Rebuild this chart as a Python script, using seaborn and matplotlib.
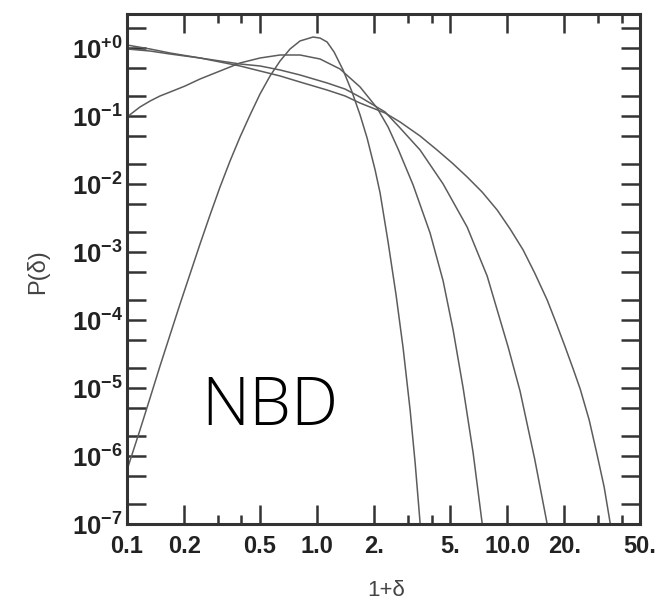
import matplotlib
matplotlib.use("Agg")
import matplotlib.pyplot as plt
import numpy as np
import pandas as pd
import seaborn as sns
from matplotlib.ticker import FixedLocator, FixedFormatter, NullFormatter

# Density distribution P(delta) against 1+delta, four widths of the NBD
x_narrow = [0.1, 0.117, 0.1322, 0.1492, 0.1684, 0.1901, 0.2146, 0.2422, 0.2734,
            0.3086, 0.3484, 0.3933, 0.4439, 0.5012, 0.5658, 0.6386, 0.7208, 0.8137,
            0.9526, 1.037, 1.129, 1.229, 1.370, 1.528, 1.684, 1.833, 2.020, 2.146,
            2.364, 2.604, 2.836, 3.087, 3.281, 3.484]
p_narrow = [6.22e-7, 2.41e-6, 7.13e-6, 2.11e-5, 6.02e-5, 1.72e-4, 4.75e-4, 1.31e-3,
            3.50e-3, 9.03e-3, 0.0218, 0.0491, 0.1035, 0.211, 0.388, 0.644, 0.967,
            1.27, 1.45, 1.40, 1.225, 0.873, 0.475, 0.225, 0.1035, 0.0475, 0.0161,
            7.37e-3, 1.40e-3, 2.33e-4, 3.87e-5, 4.75e-6, 7.89e-7, 1.03e-7]

x_mid = [0.1, 0.117, 0.1322, 0.1492, 0.1684, 0.2020, 0.2422, 0.3086, 0.3933, 0.5012,
         0.6386, 0.8137, 1.037, 1.321, 1.684, 2.069, 2.364, 2.669, 3.201, 3.932,
         4.605, 5.197, 5.867, 6.623, 7.386]
p_mid = [0.0967, 0.1356, 0.166, 0.197, 0.225, 0.276, 0.350, 0.459, 0.602, 0.713,
         0.789, 0.789, 0.689, 0.491, 0.267, 0.131, 0.0689, 0.0327, 9.67e-3, 1.90e-3,
         3.75e-4, 7.13e-5, 1.0e-5, 1.11e-6, 1.03e-7]

x_exp = [0.1, 0.1322, 0.1684, 0.2422, 0.3086, 0.3933, 0.5012, 0.6386, 0.8137, 1.129,
         1.404, 1.684, 2.280, 2.734, 3.484, 4.605, 6.159, 7.848, 10.12, 11.69,
         13.96, 16.24]
p_exp = [0.967, 0.903, 0.816, 0.713, 0.644, 0.582, 0.544, 0.475, 0.401, 0.306,
         0.249, 0.190, 0.1145, 0.0666, 0.0316, 0.0100, 2.33e-3, 4.44e-4, 4.01e-5,
         9.03e-6, 9.03e-7, 1.0e-7]

x_wide = [0.1, 0.1322, 0.1684, 0.2422, 0.3086, 0.3933, 0.5012, 0.6386, 0.8137, 1.129,
          1.404, 1.684, 2.280, 2.734, 3.484, 4.281, 5.135, 6.159, 7.386, 8.859,
          10.37, 12.14, 13.96, 16.24, 18.11, 20.2, 22.26, 24.23, 27.02, 29.77,
          32.39, 34.84]
p_wide = [1.107, 0.967, 0.844, 0.713, 0.623, 0.544, 0.459, 0.388, 0.316, 0.241,
          0.197, 0.155, 0.1107, 0.0816, 0.0508, 0.0316, 0.0204, 0.0127, 7.62e-3,
          4.15e-3, 2.18e-3, 1.07e-3, 4.91e-4, 1.97e-4, 9.03e-5, 4.01e-5, 1.90e-5,
          9.66e-6, 3.38e-6, 1.03e-6, 3.50e-7, 1.03e-7]

x_ticks = [0.1, 0.2, 0.5, 1.0, 2.0, 5.0, 10.0, 20.0, 50.0]
x_ticklabels = ["0.1", "0.2", "0.5", "1.0", "2.", "5.", "10.0", "20.", "50."]
x_minor = [0.3, 0.4, 3.0, 4.0, 30.0, 40.0]
y_exponents = ["+0", "-1", "-2", "-3", "-4", "-5", "-6", "-7"]

frames = []
for name, xs, ps in [("narrow", x_narrow, p_narrow), ("mid", x_mid, p_mid),
                     ("exp", x_exp, p_exp), ("wide", x_wide, p_wide)]:
    frames.append(pd.DataFrame({"x": xs, "p": ps, "curve": name}))
df = pd.concat(frames, ignore_index=True)

sns.set_theme(style="ticks")
plt.rcParams["font.family"] = ["Liberation Sans", "DejaVu Sans"]
plt.rcParams["mathtext.fontset"] = "custom"
plt.rcParams["mathtext.rm"] = "Liberation Sans"
plt.rcParams["mathtext.bf"] = "Liberation Sans:bold"
plt.rcParams["mathtext.it"] = "Liberation Sans:italic"

W, H = 656, 603
fig = plt.figure(figsize=(W / 100, H / 100), dpi=100)
fig.patch.set_facecolor("white")
left, right, top, bottom = 127, 640, 14, 524
ax = fig.add_axes([left / W, 1 - bottom / H, (right - left) / W, (bottom - top) / H])
ax.set_facecolor("white")

line_color = "#5c5c5c"
sns.lineplot(data=df, x="x", y="p", hue="curve",
             palette={k: line_color for k in ["narrow", "mid", "exp", "wide"]},
             estimator=None, sort=False, legend=False, linewidth=1.1, ax=ax)

ax.set_xscale("log")
ax.set_yscale("log")
ax.set_xlim(0.1, 50)
ax.set_ylim(1e-7, 10 ** 0.5)

ax.xaxis.set_major_locator(FixedLocator(x_ticks))
ax.xaxis.set_major_formatter(FixedFormatter(x_ticklabels))
ax.xaxis.set_minor_locator(FixedLocator(x_minor))
ax.xaxis.set_minor_formatter(NullFormatter())

y_major = [10.0 ** (-i) for i in range(8)]
y_minor = [m * 10.0 ** e for e in range(-7, 1) for m in (2, 5)]
ax.yaxis.set_major_locator(FixedLocator(y_major))
ax.yaxis.set_major_formatter(FixedFormatter(
    [r"$\mathbf{10}^{\mathbf{%s}}$" % e for e in y_exponents]))
ax.yaxis.set_minor_locator(FixedLocator(y_minor))
ax.yaxis.set_minor_formatter(NullFormatter())

spine_color = "#333333"
for s in ax.spines.values():
    s.set_visible(True)
    s.set_linewidth(2.2)
    s.set_color(spine_color)

ax.tick_params(axis="both", which="both", direction="in", top=True, right=True,
               width=1.8, color=spine_color, labelcolor="#222222")
ax.tick_params(axis="both", which="major", length=13.5)
ax.tick_params(axis="x", which="minor", length=6.5)
ax.tick_params(axis="y", which="minor", length=13.5)
ax.tick_params(axis="x", which="major", pad=8, labelsize=17)
ax.tick_params(axis="y", which="major", pad=3, labelsize=18.5)
for lab in ax.get_xticklabels():
    lab.set_fontweight("bold")

ax.set_xlabel("1+δ", fontsize=16, color="#444444", va="center")
ax.xaxis.set_label_coords((386 - left) / (right - left), (bottom - 590) / (bottom - top))
ax.set_ylabel("P(δ)", fontsize=17, color="#444444", va="center")
ax.yaxis.set_label_coords((38 - left) / (right - left), (bottom - 272) / (bottom - top))

ax.text((201 - left) / (right - left), (bottom - 425) / (bottom - top), "NBD",
        transform=ax.transAxes, fontsize=48, fontweight=300,
        family=["Open Sans", "DejaVu Sans"], color="black", ha="left", va="baseline")

fig.savefig("out.png", dpi=100, facecolor="white")
